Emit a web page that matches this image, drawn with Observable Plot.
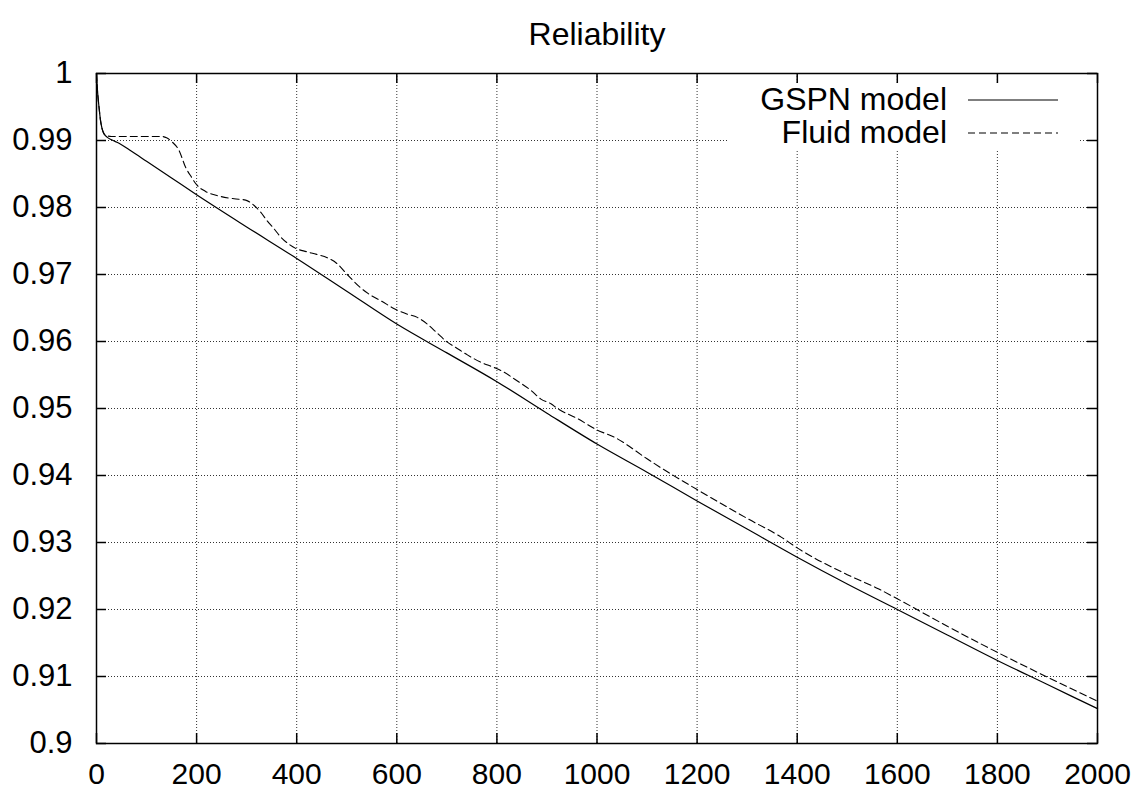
<!DOCTYPE html>
<html>
<head>
<meta charset="utf-8">
<script src="https://cdn.jsdelivr.net/npm/d3@7"></script>
<script src="https://cdn.jsdelivr.net/npm/@observablehq/plot@0.6"></script>
<style>
  html, body { margin: 0; padding: 0; background: white; }
</style>
</head>
<body>
<div id="chart"></div>
<script>
const title = "Reliability";
const seriesNames = ["GSPN model", "Fluid model"];

const xTicks = [0, 200, 400, 600, 800, 1000, 1200, 1400, 1600, 1800, 2000];
const yTicks = [0.9, 0.91, 0.92, 0.93, 0.94, 0.95, 0.96, 0.97, 0.98, 0.99, 1];
const xGrid = [200, 400, 600, 800, 1000, 1200, 1400, 1600, 1800];
const yGrid = [0.91, 0.92, 0.93, 0.94, 0.95, 0.96, 0.97, 0.98, 0.99];

const gspnT = [0, 1, 3, 5, 8, 11, 15, 21, 30, 45, 70, 100, 150, 200, 300, 400, 500, 600, 700, 800, 900, 1000, 1100, 1200, 1300, 1400, 1500, 1600, 1700, 1800, 1900, 2000];
const gspnR = [1.0, 0.9985, 0.9965, 0.995, 0.993, 0.9918, 0.991, 0.9905, 0.9901, 0.9896, 0.9884, 0.9869, 0.9844, 0.9819, 0.9771, 0.9724, 0.9675, 0.9626, 0.9583, 0.954, 0.9493, 0.9447, 0.9405, 0.9362, 0.932, 0.9278, 0.9238, 0.92, 0.9162, 0.9124, 0.9088, 0.9052];

const fluidT = [0, 1, 3, 5, 8, 11, 15, 21, 30, 60, 100, 130, 140, 151, 165, 178, 190, 200, 218, 245, 275, 298, 315, 328, 341, 355, 368, 383, 398, 420, 440, 461, 481, 501, 528, 548, 570, 595, 620, 641, 661, 680, 701, 720, 741, 768, 795, 810, 835, 868, 888, 908, 921, 961, 1000, 1035, 1100, 1131, 1200, 1300, 1368, 1400, 1500, 1562, 1600, 1700, 1800, 1900, 2000];
const fluidR = [1.0, 0.9985, 0.9965, 0.995, 0.993, 0.9918, 0.991, 0.9907, 0.9906, 0.9906, 0.9906, 0.9906, 0.9904, 0.9898, 0.9885, 0.986, 0.9845, 0.9834, 0.9824, 0.9817, 0.9813, 0.9811, 0.9803, 0.9793, 0.978, 0.9768, 0.9756, 0.9746, 0.9739, 0.9734, 0.973, 0.9725, 0.9716, 0.97, 0.968, 0.9669, 0.966, 0.9649, 0.9641, 0.9636, 0.9626, 0.9613, 0.9599, 0.959, 0.958, 0.9569, 0.9561, 0.9556, 0.9544, 0.9527, 0.9514, 0.9507, 0.95, 0.9485, 0.9468, 0.9457, 0.9425, 0.941, 0.9379, 0.9336, 0.9308, 0.9292, 0.9252, 0.9231, 0.9216, 0.9175, 0.9136, 0.9099, 0.9063];

const gspn = gspnT.map((t, i) => ({t, r: gspnR[i]}));
const fluid = fluidT.map((t, i) => ({t, r: fluidR[i]}));

const W = 1141, H = 792;
const mL = 96, mR = 44, mT = 73, mB = 49;
const frameW = W - mL - mR, frameH = H - mT - mB;
const tickLen = 10;
const font = "'Liberation Sans', Arial, Helvetica, sans-serif";

const plot = Plot.plot({
  width: W, height: H,
  marginLeft: mL, marginRight: mR, marginTop: mT, marginBottom: mB,
  style: {fontFamily: font, fontSize: "30px", color: "black", background: "white", overflow: "visible"},
  x: {domain: [0, 2000]},
  y: {domain: [0.9, 1]},
  marks: [
    Plot.gridX(xGrid, {stroke: "#333", strokeOpacity: 1, strokeWidth: 1, strokeDasharray: "1,2"}),
    Plot.gridY(yGrid, {stroke: "#333", strokeOpacity: 1, strokeWidth: 1, strokeDasharray: "1,2"}),
    Plot.tickX(xTicks, {x: d => d, stroke: "black", strokeWidth: 1.5, insetTop: frameH - tickLen}),
    Plot.tickX(xTicks, {x: d => d, stroke: "black", strokeWidth: 1.5, insetBottom: frameH - tickLen}),
    Plot.tickY(yTicks, {y: d => d, stroke: "black", strokeWidth: 1.5, insetRight: frameW - tickLen}),
    Plot.tickY(yTicks, {y: d => d, stroke: "black", strokeWidth: 1.5, insetLeft: frameW - tickLen}),
    Plot.axisX(xTicks, {tickSize: 0, tickPadding: 19, tickFormat: d => String(d), label: null, fill: "black", fontSize: 30}),
    Plot.axisY(yTicks, {tickSize: 0, tickPadding: 24, tickFormat: d => String(d), label: null, fill: "black", fontSize: 31}),
    Plot.line(fluid, {x: "t", y: "r", stroke: "black", strokeWidth: 1.1, strokeDasharray: "7,4", curve: "monotone-x"}),
    Plot.line(gspn, {x: "t", y: "r", stroke: "black", strokeWidth: 1.2, curve: "monotone-x"}),
    Plot.frame({stroke: "black", strokeWidth: 1.5}),
    Plot.text([title], {text: d => d, frameAnchor: "top", dy: -51, fontSize: 32, fill: "black"})
  ]
});

// Legend (white box over the grid, top right)
const svg = d3.select(plot);
const lg = svg.append("g").attr("font-family", font).attr("font-size", 32);
lg.append("rect").attr("x", 728).attr("y", 85).attr("width", 351).attr("height", 64).attr("fill", "white");
const rows = [
  {name: seriesNames[0], dash: null, y: 99},
  {name: seriesNames[1], dash: "7,4", y: 132}
];
rows.forEach(r => {
  lg.append("text").attr("x", 947).attr("y", r.y).attr("dy", "0.35em")
    .attr("text-anchor", "end").attr("fill", "black").text(r.name);
  lg.append("line").attr("x1", 968).attr("x2", 1058).attr("y1", r.y + 1).attr("y2", r.y + 1)
    .attr("stroke", "black").attr("stroke-width", 1.1)
    .attr("stroke-dasharray", r.dash);
});

document.getElementById("chart").appendChild(plot);
</script>
</body>
</html>
